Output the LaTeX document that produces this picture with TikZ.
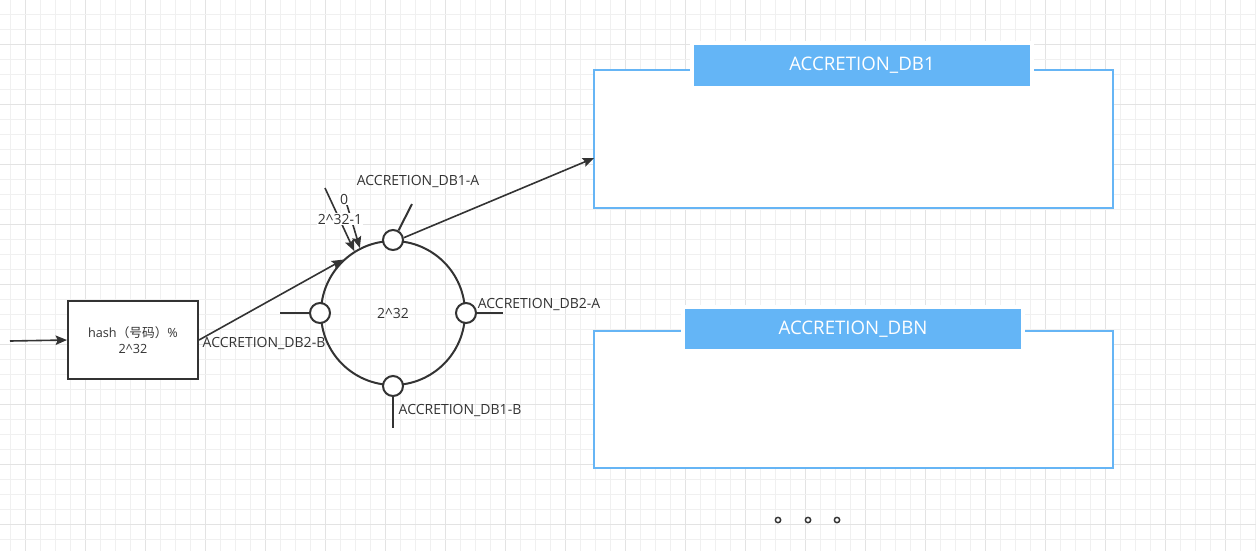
\documentclass[tikz,border=0pt]{standalone}
\usepackage{fontspec}
\setmainfont{Open Sans}
\newfontfamily\cjk{Noto Sans CJK SC}
\usetikzlibrary{arrows.meta,calc}
\definecolor{ink}{HTML}{333333}
\definecolor{dbline}{HTML}{66B5F5}
\definecolor{dbhead}{HTML}{64B5F6}
\definecolor{gridminor}{HTML}{F0F0F0}
\definecolor{gridmajor}{HTML}{E3E3E3}
\tikzset{
  lbl/.style={text=ink, font=\fontsize{10.5}{12.5}\selectfont, inner sep=1pt},
  arr/.style={draw=ink, line width=1.2pt, -{Stealth[length=8.5pt,width=7pt,inset=1.5pt]}},
  stub/.style={draw=ink, line width=1.5pt},
  port/.style={circle, draw=ink, fill=white, line width=1.5pt, minimum size=15pt, inner sep=0pt},
  dbbox/.style={rectangle, draw=dbline, fill=white, line width=1.5pt, minimum width=389.25pt, inner sep=0pt},
  dbhdr/.style={rectangle, fill=dbhead, draw=white, line width=2.5pt, minimum width=255pt, text=white, font=\fontsize{14}{16}\selectfont, inner sep=0pt},
  dot/.style={circle, draw=ink, line width=1.1pt, minimum size=4pt, inner sep=0pt}
}
\begin{document}
\begin{tikzpicture}[x=0.75pt,y=-0.75pt]
\useasboundingbox (0,0) rectangle (1256,551);
\fill[white] (0,0) rectangle (1256,551);
% grid
\foreach \i in {0,...,83} {
  \pgfmathtruncatemacro{\gx}{10+15*\i}
  \pgfmathtruncatemacro{\mj}{mod(\i,4)==1 ? 1 : 0}
  \ifnum\mj=1
    \draw[gridmajor, line width=0.75pt] (\gx,0) -- (\gx,551);
  \else
    \draw[gridminor, line width=0.75pt] (\gx,0) -- (\gx,551);
  \fi
}
\foreach \j in {0,...,35} {
  \pgfmathtruncatemacro{\gy}{14+15*\j}
  \pgfmathtruncatemacro{\mj}{mod(\j,4)==2 ? 1 : 0}
  \ifnum\mj=1
    \draw[gridmajor, line width=0.75pt] (0,\gy) -- (1256,\gy);
  \else
    \draw[gridminor, line width=0.75pt] (0,\gy) -- (1256,\gy);
  \fi
}

% hash box
\node[rectangle, draw=ink, fill=white, line width=1.5pt, minimum width=97.5pt, minimum height=58.5pt, align=center, text=ink, font=\fontsize{9.5}{11.5}\selectfont] (hash) at (133,340) {hash{\cjk（号码）}\%\\2\textasciicircum 32};
\coordinate (in) at (10,341);
\draw[arr] (in) -- (hash.west);

% ring
\node[circle, draw=ink, line width=1.5pt, minimum size=108pt, inner sep=0pt] (ring) at (393,313) {};
\node[lbl] (ringlbl) at (393,313) {2\textasciicircum 32};

\draw[arr] (hash.east) -- (ring.133);

% pointer arrows to 0 / 2^32-1
\coordinate (s1) at (325,188);
\coordinate (s2) at (347,205);
\draw[arr] (s1) -- (ring.122);
\draw[arr] (s2) -- (ring.117);
\node[lbl, fill=white] (zero) at (344,199) {0};
\node[lbl, fill=white] (max) at (340,219) {2\textasciicircum 32-1};

% ports
\node[port] (pA) at (ring.90) {};
\node[port] (pR) at (ring.0) {};
\node[port] (pL) at (ring.180) {};
\node[port] (pB) at (ring.270) {};

\coordinate (tA) at (412,204);
\coordinate (tR) at (503,313);
\coordinate (tL) at (280,313);
\coordinate (tB) at (393,428);
\draw[stub] (pA.60) -- (tA);
\draw[stub] (pR.east) -- (tR);
\draw[stub] (tL) -- (pL.west);
\draw[stub] (pB.south) -- (tB);

\node[lbl] (lA) at (418,181) {ACCRETION\_DB1-A};
\node[lbl] (lR) at (539,304) {ACCRETION\_DB2-A};
\node[lbl] (lL) at (264,343) {ACCRETION\_DB2-B};
\node[lbl] (lB) at (460,410) {ACCRETION\_DB1-B};

% DB boxes
\node[dbbox, minimum height=103.5pt] (db1) at (853.5,139) {};
\node[dbhdr, minimum height=33.75pt] (db1h) at (862,65.5) {ACCRETION\_DB1};
\node[dbbox, minimum height=102.75pt] (dbn) at (853.5,399.5) {};
\node[dbhdr, minimum height=33pt] (dbnh) at (853,329) {ACCRETION\_DBN};

\coordinate (db1in) at (594,158);
\draw[arr] (pA.12) -- (db1in);

% dots
\node[dot] (d1) at (778,520) {};
\node[dot] (d2) at (808,520) {};
\node[dot] (d3) at (837,520) {};
\end{tikzpicture}
\end{document}
